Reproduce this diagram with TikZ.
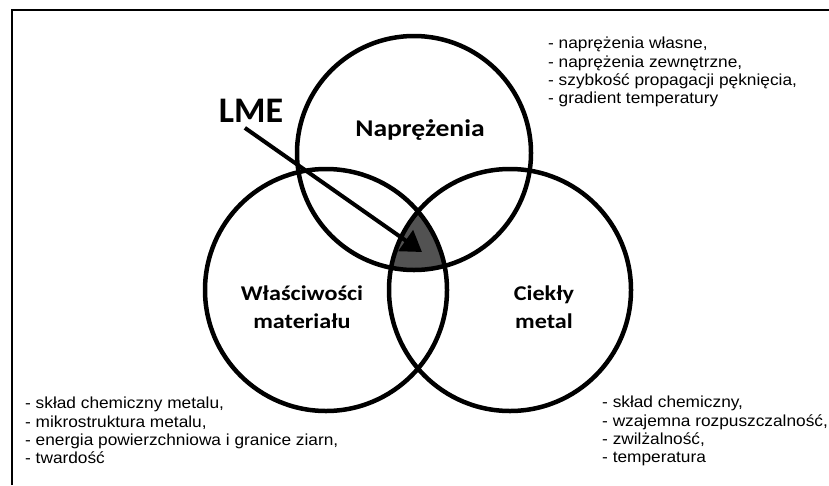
\documentclass[tikz,border=0pt]{standalone}
\usepackage{fontspec}
\usepackage{tikz}
\usetikzlibrary{arrows.meta}
\newfontfamily\carlito[FakeStretch=1.15]{Carlito}
\newfontfamily\carlitolme{Carlito}
\newfontfamily\arialfont[FakeStretch=1.08]{Liberation Sans}

\tikzset{
  kolo/.style={line width=4.5pt},
  tytul/.style={font=\carlito\bfseries\fontsize{21}{28}\selectfont, align=center, inner sep=0pt},
  lista/.style={font=\arialfont\fontsize{16}{18.3}\selectfont, align=left, anchor=north west, inner sep=0pt},
}

\begin{document}
\begin{tikzpicture}[x=1pt,y=-1pt]
  \useasboundingbox (0,0) rectangle (829,485);
  % ramka
  \draw[line width=1.5pt] (12,485) -- (12,10) -- (829,10);

  % czesc wspolna trzech kol
  \begin{scope}
    \clip (414,153) circle (117pt);
    \clip (326,290) circle (121pt);
    \fill[black!68] (510,290) circle (121pt);
  \end{scope}

  \draw[kolo] (414,153) circle (117pt);
  \draw[kolo] (326,290) circle (121pt);
  \draw[kolo] (510,290) circle (121pt);

  \node[tytul, font=\carlito\bfseries\fontsize{24}{28}\selectfont] (naprezenia) at (420,130) {Naprężenia};
  \node[tytul] (wlasciwosci) at (302,307) {Właściwości\\materiału};
  \node[tytul] (ciekly) at (544,307) {Ciekły\\metal};

  \node[font=\carlitolme\bfseries\fontsize{36}{40}\selectfont, inner sep=5pt] (lme) at (251,111) {LME};
  \coordinate (cel) at (422,252);
  \draw[line width=4pt, -{Triangle[length=20pt,width=25pt]}] (lme.250) -- (cel);

  % listy czynnikow
  \node[lista] (listanapr) at (548,37) {- naprężenia własne,\\- naprężenia zewnętrzne,\\- szybkość propagacji pęknięcia,\\- gradient temperatury};
  \node[lista] (listamat) at (25,397) {- skład chemiczny metalu,\\- mikrostruktura metalu,\\- energia powierzchniowa i granice ziarn,\\- twardość};
  \node[lista] (listamet) at (602,396) {- skład chemiczny,\\- wzajemna rozpuszczalność,\\- zwilżalność,\\- temperatura};
\end{tikzpicture}
\end{document}
